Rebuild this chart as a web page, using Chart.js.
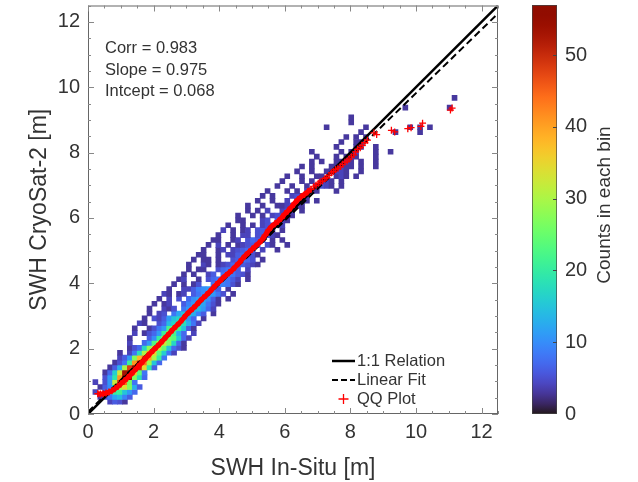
<!DOCTYPE html>
<html>
<head>
<meta charset="utf-8">
<script src="https://cdn.jsdelivr.net/npm/chart.js@4.4.0/dist/chart.umd.min.js"></script>
<style>
html,body{margin:0;padding:0;background:#fff;}
#wrap{position:relative;width:638px;height:482px;overflow:hidden;}
#main{position:absolute;left:0;top:0;}
#cbar{position:absolute;left:520px;top:0;}
</style>
</head>
<body>
<div id="wrap">
<canvas id="main" width="520" height="482"></canvas>
<canvas id="cbar" width="118" height="482"></canvas>
</div>
<script>
// ---------------- DATA ----------------
const binWidth = 0.15;                 // histogram bin size [m]
const countDigits = "0123456789abcdefghijklmnopqrstuvwxyzABCDEFGHIJKLMNOPQRSTUVWXYZ";
// [row index j, first column index i, counts per bin (one char per bin, '.' = empty)]
const histRows = [
  [2, 4, "4653"],
  [3, 2, "358ce96"],
  [4, 1, "4.5cklfb7"],
  [5, 2, "36ajuyrd6"],
  [6, 1, "4.5bwNIq8"],
  [7, 3, "5bjFVUri7"],
  [8, 3, "37gxRVBo8"],
  [9, 4, "36duMUOzj6"],
  [10, 5, "358lFQItf7"],
  [11, 6, "46brCJEuk8"],
  [12, 6, "3.48iuEzog84"],
  [13, 8, "357hsyvpf753"],
  [14, 8, "4..7bnuwrh73"],
  [15, 8, "3...6aksqog74"],
  [16, 9, "4.357blrmd7.4"],
  [17, 9, "3..358bmplf63"],
  [18, 10, "43..57ehkid84"],
  [19, 11, "3.546bfhgb7.3"],
  [20, 12, "3.45.8cfgd96.3"],
  [21, 12, "3..435.8bdeb74"],
  [22, 13, "3.34..69bdc853"],
  [23, 14, "3.4.5.7acca63.3"],
  [24, 15, "43.34.68acb85.3"],
  [25, 16, "3..4469ab96.3"],
  [26, 17, "3.3.35..8a9853"],
  [27, 18, "34..3.5789864.3"],
  [28, 19, "3.3..46.898653"],
  [29, 20, "3.33..57886.4"],
  [30, 20, "3..43.345786543"],
  [31, 21, "3.33.3..56875.3"],
  [32, 22, "33..3.4467653"],
  [33, 23, "3..34.45676.4..3"],
  [34, 24, "3.4.3.34567.53..3"],
  [35, 25, "33..34.5765.3.3"],
  [36, 26, "3..3.44.56543"],
  [37, 27, "4.3.34.5654.3"],
  [38, 28, "3..3.3.45654"],
  [39, 30, "33...45.643"],
  [40, 30, "3..3.3.45543"],
  [41, 32, "3.3.4..454.3"],
  [42, 32, "3..3..334543"],
  [43, 34, "3..3..4.543.3"],
  [44, 35, "3.3...4543"],
  [45, 36, "3...3.3.443...3"],
  [46, 38, "3..3..3.4543.3"],
  [47, 39, "3...3.3.343.3"],
  [48, 40, "3..3..33..343.3"],
  [49, 42, "3..3..33443..3"],
  [50, 43, "3.3...33433.3..3"],
  [51, 45, "3.3..3343.3..3"],
  [52, 46, "3...3.343...3"],
  [53, 45, "3.....3.34...3..3"],
  [54, 50, "3...33..3"],
  [55, 51, "3..33"],
  [56, 52, "3.3.3"],
  [57, 55, "3......3....3"],
  [58, 48, "3.......3........3.3.3"],
  [59, 53, "3"],
  [60, 53, "3"],
  [62, 64, "3........3"],
  [64, 74, "3"]
];
const qqDenseX = [0.30,0.38,0.46,0.55,0.64,0.73,0.82,0.91,1.00,1.10,1.20,1.30,1.40,1.50,1.60,1.70,1.80,1.90,2.00,2.10,2.20,2.30,2.40,2.50,2.60,2.70,2.80,2.90,3.00,3.10,3.20,3.30,3.40,3.50,3.60,3.70,3.80,3.90,4.00,4.10,4.20,4.30,4.40,4.50,4.60,4.70,4.80,4.90,5.00,5.10,5.20,5.30,5.40,5.50,5.60,5.70,5.80,5.90,6.00,6.10,6.20,6.30,6.40,6.50,6.60,6.70,6.80];
const qqDenseY = [0.62,0.61,0.62,0.64,0.67,0.71,0.77,0.84,0.92,1.01,1.10,1.20,1.31,1.42,1.53,1.64,1.75,1.86,1.96,2.06,2.16,2.27,2.38,2.49,2.60,2.70,2.80,2.92,3.04,3.14,3.23,3.33,3.44,3.54,3.63,3.73,3.84,3.95,4.05,4.15,4.24,4.32,4.41,4.51,4.62,4.74,4.85,4.95,5.04,5.13,5.22,5.33,5.47,5.62,5.74,5.82,5.90,6.00,6.12,6.22,6.33,6.45,6.56,6.65,6.72,6.80,6.88];
const qqSparseX = [6.88,6.95,7.02,7.08,7.15,7.22,7.28,7.35,7.42,7.48,7.55,7.62,7.70,7.76,7.83,7.90,7.96,8.03,8.10,8.16,8.22,8.30,8.36,8.44,8.52,8.72,8.80,9.25,9.35,9.75,9.85,10.15,10.20,11.05,11.10];
const qqSparseY = [6.95,7.00,7.06,7.10,7.13,7.20,7.24,7.30,7.38,7.42,7.48,7.52,7.57,7.64,7.70,7.74,7.80,7.87,7.93,8.02,8.10,8.15,8.22,8.30,8.38,8.60,8.55,8.68,8.63,8.73,8.76,8.80,8.90,9.30,9.36];
const oneToOneX = [0, 12.5];
const oneToOneY = [0, 12.5];
const fitX = [0, 12.5];
const fitY = [0.068, 12.256];
const axisTicks = [0, 2, 4, 6, 8, 10, 12];
const axisMax = 12.5;
const minorTickStep = 0.5;
const cbarTicks = [0, 10, 20, 30, 40, 50];
const cbarMax = 57;
const statsLines = ["Corr = 0.983", "Slope = 0.975", "Intcept = 0.068"];
const legendLabels = ["1:1 Relation", "Linear Fit", "QQ Plot"];
const xTitle = "SWH In-Situ [m]";
const yTitle = "SWH CryoSat-2 [m]";
const cbarTitle = "Counts in each bin";

// ---------------- HELPERS ----------------
const FONT = "'Liberation Sans', Arial, Helvetica, sans-serif";
const TXT = "#333333";
function clamp01(v){ return Math.max(0, Math.min(1, v)); }
function turbo(t){
  t = clamp01(t);
  const r = 0.13572138 + t*(4.61539260 + t*(-42.66032258 + t*(132.13108234 + t*(-152.94239396 + t*59.28637943))));
  const g = 0.09140261 + t*(2.19418839 + t*(4.84296658 + t*(-14.18503333 + t*(4.27729857 + t*2.82956604))));
  const b = 0.10667330 + t*(12.64194608 + t*(-60.58204836 + t*(110.36276771 + t*(-89.90310912 + t*27.34824973))));
  return "rgb(" + Math.round(clamp01(r)*255) + "," + Math.round(clamp01(g)*255) + "," + Math.round(clamp01(b)*255) + ")";
}
const zip = (xs, ys) => xs.map((x, k) => ({x: x, y: ys[k]}));
const cellPoints = [];
histRows.forEach(([j, i0, s]) => {
  for (let k = 0; k < s.length; k++) {
    const v = countDigits.indexOf(s[k]);
    if (v > 0) cellPoints.push({x: (i0 + k + 0.5) * binWidth, y: (j + 0.5) * binWidth, v: v});
  }
});
function cellRadius(chart){
  const s = chart.scales.x;
  if (!s || !isFinite(s.getPixelForValue(binWidth))) return 3.5;
  const side = Math.abs(s.getPixelForValue(binWidth) - s.getPixelForValue(0));
  return (side / 2 + 0.35) / Math.SQRT1_2;
}
function noPad(s){ s.paddingTop = 0; s.paddingBottom = 0; s.paddingLeft = 0; s.paddingRight = 0; }

// frame + inward ticks on all four sides, annotations, legend
const framePlugin = {
  id: 'frame',
  afterDatasetsDraw(chart){
    const {ctx, chartArea: a, scales: {x, y}} = chart;
    ctx.save();
    ctx.strokeStyle = '#666';
    ctx.lineWidth = 1;
    ctx.strokeRect(a.left + 0.5, a.top + 0.5, a.right - a.left - 1, a.bottom - a.top - 1);
    ctx.strokeStyle = '#888';
    for (let v = 0; v <= axisMax + 1e-9; v += minorTickStep) {
      const major = axisTicks.some(t => Math.abs(t - v) < 1e-9);
      const len = major ? 6 : 3;
      const px = Math.round(x.getPixelForValue(v)) + 0.5;
      const py = Math.round(y.getPixelForValue(v)) + 0.5;
      ctx.beginPath();
      ctx.moveTo(px, a.bottom); ctx.lineTo(px, a.bottom - len);
      ctx.moveTo(px, a.top); ctx.lineTo(px, a.top + len);
      ctx.moveTo(a.left, py); ctx.lineTo(a.left + len, py);
      ctx.moveTo(a.right, py); ctx.lineTo(a.right - len, py);
      ctx.stroke();
    }
    ctx.restore();
  },
  afterDraw(chart){
    const {ctx, chartArea: a} = chart;
    ctx.save();
    ctx.fillStyle = TXT;
    ctx.font = "16.5px " + FONT;
    ctx.textBaseline = 'middle';
    ctx.textAlign = 'left';
    statsLines.forEach((t, k) => ctx.fillText(t, a.left + 17, a.top + 43 + k * 21.5));
    const x0 = a.right - 166, x1 = a.right - 143, tx = a.right - 141;
    const rows = [a.bottom - 53, a.bottom - 34, a.bottom - 15];
    ctx.strokeStyle = '#000';
    ctx.lineWidth = 2.5;
    ctx.beginPath(); ctx.moveTo(x0, rows[0]); ctx.lineTo(x1, rows[0]); ctx.stroke();
    ctx.lineWidth = 2;
    ctx.setLineDash([6, 3]);
    ctx.beginPath(); ctx.moveTo(x0, rows[1]); ctx.lineTo(x1, rows[1]); ctx.stroke();
    ctx.setLineDash([]);
    ctx.strokeStyle = '#ff0000';
    ctx.lineWidth = 1.3;
    const cx = (x0 + x1) / 2;
    ctx.beginPath();
    ctx.moveTo(cx - 5, rows[2]); ctx.lineTo(cx + 5, rows[2]);
    ctx.moveTo(cx, rows[2] - 5); ctx.lineTo(cx, rows[2] + 5);
    ctx.stroke();
    legendLabels.forEach((t, k) => ctx.fillText(t, tx, rows[k]));
    ctx.restore();
  }
};

const tickFont = {family: FONT, size: 20};
const titleFont = {family: FONT, size: 23};

new Chart(document.getElementById('main'), {
  type: 'scatter',
  data: {
    datasets: [
      {label: 'QQ', data: zip(qqDenseX, qqDenseY), showLine: true, borderColor: '#ff0000', backgroundColor: '#ff0000',
       borderWidth: 5, pointStyle: 'cross', pointRadius: 3.5, pointBorderWidth: 1.5, pointBorderColor: '#ff0000', order: 0},
      {label: 'QQ2', data: zip(qqSparseX, qqSparseY), showLine: false, borderColor: '#ff0000', backgroundColor: '#ff0000',
       pointStyle: 'cross', pointRadius: 3.5, pointBorderWidth: 1.3, order: 0},
      {label: '1:1', data: zip(oneToOneX, oneToOneY), showLine: true, borderColor: '#000', borderWidth: 2.5, pointRadius: 0, order: 1},
      {label: 'fit', data: zip(fitX, fitY), showLine: true, borderColor: '#000', borderWidth: 2, borderDash: [7, 4], pointRadius: 0, order: 2},
      {label: 'cells', data: cellPoints, pointStyle: 'rect', borderWidth: 0,
       pointRadius: ctx => cellRadius(ctx.chart),
       backgroundColor: ctx => (ctx.raw ? turbo(ctx.raw.v / cbarMax) : '#000'), order: 3}
    ]
  },
  options: {
    responsive: false, animation: false, events: [],
    layout: {padding: {left: 0, top: 5, right: 22, bottom: 0}},
    plugins: {legend: {display: false}, tooltip: {enabled: false}},
    scales: {
      x: {type: 'linear', min: 0, max: axisMax,
          afterBuildTicks: s => { s.ticks = axisTicks.map(v => ({value: v})); },
          grid: {display: false, drawTicks: false}, border: {display: false},
          ticks: {font: tickFont, color: TXT, padding: 6, maxRotation: 0},
          title: {display: true, text: xTitle, font: titleFont, color: TXT, padding: {top: 0, bottom: 0}},
          afterFit: s => { s.height = 68; noPad(s); }},
      y: {type: 'linear', min: 0, max: axisMax,
          afterBuildTicks: s => { s.ticks = axisTicks.map(v => ({value: v})); },
          grid: {display: false, drawTicks: false}, border: {display: false},
          ticks: {font: tickFont, color: TXT, padding: 8},
          title: {display: true, text: yTitle, font: titleFont, color: TXT, padding: {top: 26, bottom: 0}},
          afterFit: s => { s.width = 88; noPad(s); }}
    }
  },
  plugins: [framePlugin]
});

// ---------------- COLORBAR ----------------
function cbarGradient(chart){
  const y = chart.scales.y;
  if (!chart.chartArea || !y) return '#888';
  const g = chart.ctx.createLinearGradient(0, y.getPixelForValue(0), 0, y.getPixelForValue(cbarMax));
  for (let k = 0; k <= 40; k++) g.addColorStop(k / 40, turbo(k / 40));
  return g;
}
const cbarPlugin = {
  id: 'cbarTitle',
  afterDraw(chart){
    const {ctx, chartArea: a, scales: {y}} = chart;
    ctx.save();
    ctx.strokeStyle = '#444';
    ctx.lineWidth = 1;
    cbarTicks.forEach(v => {
      const py = Math.round(y.getPixelForValue(v)) + 0.5;
      if (v > 0) { ctx.beginPath(); ctx.moveTo(a.right - 4, py); ctx.lineTo(a.right, py); ctx.stroke(); }
    });
    ctx.translate(85, 205);
    ctx.rotate(-Math.PI / 2);
    ctx.fillStyle = TXT;
    ctx.font = "19px " + FONT;
    ctx.textAlign = 'center';
    ctx.textBaseline = 'middle';
    ctx.fillText(cbarTitle, 0, 0);
    ctx.restore();
  }
};
new Chart(document.getElementById('cbar'), {
  type: 'bar',
  data: {labels: ['counts'], datasets: [{data: [[0, cbarMax]], backgroundColor: ctx => cbarGradient(ctx.chart),
    borderColor: '#444', borderWidth: 1, borderSkipped: false, barPercentage: 1, categoryPercentage: 1}]},
  options: {
    responsive: false, animation: false, events: [],
    layout: {padding: {left: 12, top: 5, right: 0, bottom: 68}},
    plugins: {legend: {display: false}, tooltip: {enabled: false}},
    scales: {
      x: {display: false},
      y: {position: 'right', min: 0, max: cbarMax,
          afterBuildTicks: s => { s.ticks = cbarTicks.map(v => ({value: v})); },
          grid: {display: false, drawTicks: false}, border: {display: false},
          ticks: {font: tickFont, color: TXT, padding: 8},
          afterFit: s => { s.width = 81; noPad(s); }}
    }
  },
  plugins: [cbarPlugin]
});
</script>
</body>
</html>
